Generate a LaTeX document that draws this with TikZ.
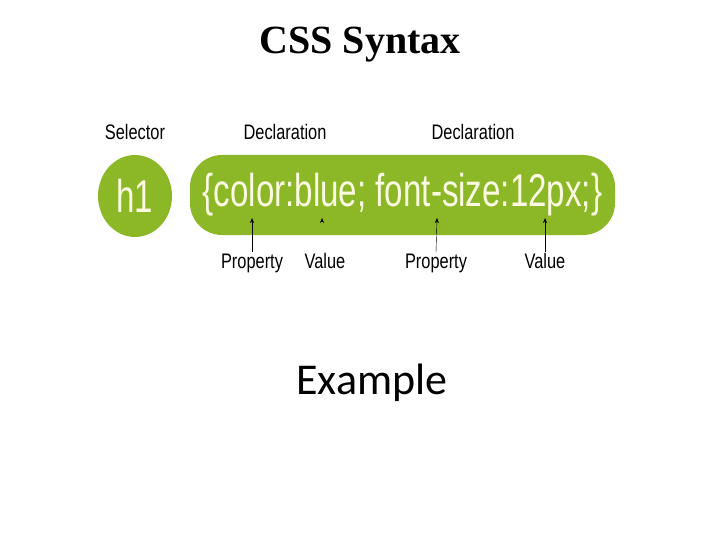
\documentclass[tikz,border=0pt]{standalone}
\usepackage{fontspec}
\usetikzlibrary{shapes.geometric,calc,arrows.meta}
\setmainfont{Liberation Serif}
\newfontfamily\narrowfont[FakeStretch=0.78]{Liberation Sans}
\newfontfamily\codefont[FakeStretch=0.72]{Liberation Sans}
\newfontfamily\slidefont{Carlito}
\definecolor{cssgreen}{RGB}{140,184,40}
\definecolor{cream}{RGB}{250,250,225}
\begin{document}
\begin{tikzpicture}[x=1pt, y=-1pt,
  lbl/.style={font=\narrowfont\fontsize{21}{24}\selectfont, inner sep=1pt, anchor=base},
  tip/.style={->, >={Stealth[length=5pt, width=4pt]}, thin}]
  \useasboundingbox (0,0) rectangle (720,540);
  \node (title) at (360,45) {\fontsize{40}{44}\selectfont\bfseries CSS Syntax};
  \node[lbl] (sel) at (135,140) {Selector};
  \node[lbl] (decl1) at (285,140) {Declaration};
  \node[lbl] (decl2) at (473,140) {Declaration};
  \node[ellipse, fill=cssgreen, minimum width=74, minimum height=82, inner sep=0pt,
    text=cream, font=\codefont\fontsize{46}{50}\selectfont] (h1) at (135,196) {h1};
  \node[rounded corners=32, fill=cssgreen, minimum width=425, minimum height=80, inner sep=0pt,
    text=cream, font=\codefont\fontsize{46}{50}\selectfont] (rule) at (402.5,195) {\{color:blue; font-size:12px;\}};
  \node[lbl] (prop1) at (252,268) {Property};
  \node[lbl] (val1) at (325,268) {Value};
  \node[lbl] (prop2) at (436,268) {Property};
  \node[lbl] (val2) at (545,268) {Value};
  \coordinate (p1) at (252,218);
  \coordinate (v1) at (322,218);
  \coordinate (p2) at (437,218);
  \coordinate (v2) at (545,218);
  \draw[tip] (prop1.north) -- (p1);
  \draw[tip] ($(v1)+(0,4)$) -- (v1);
  \draw[tip] (prop2.north) -- (p2);
  \draw[tip] (val2.north) -- (v2);
  \node (ex) at (372,383) {\slidefont\fontsize{44}{48}\selectfont Example};
\end{tikzpicture}
\end{document}
